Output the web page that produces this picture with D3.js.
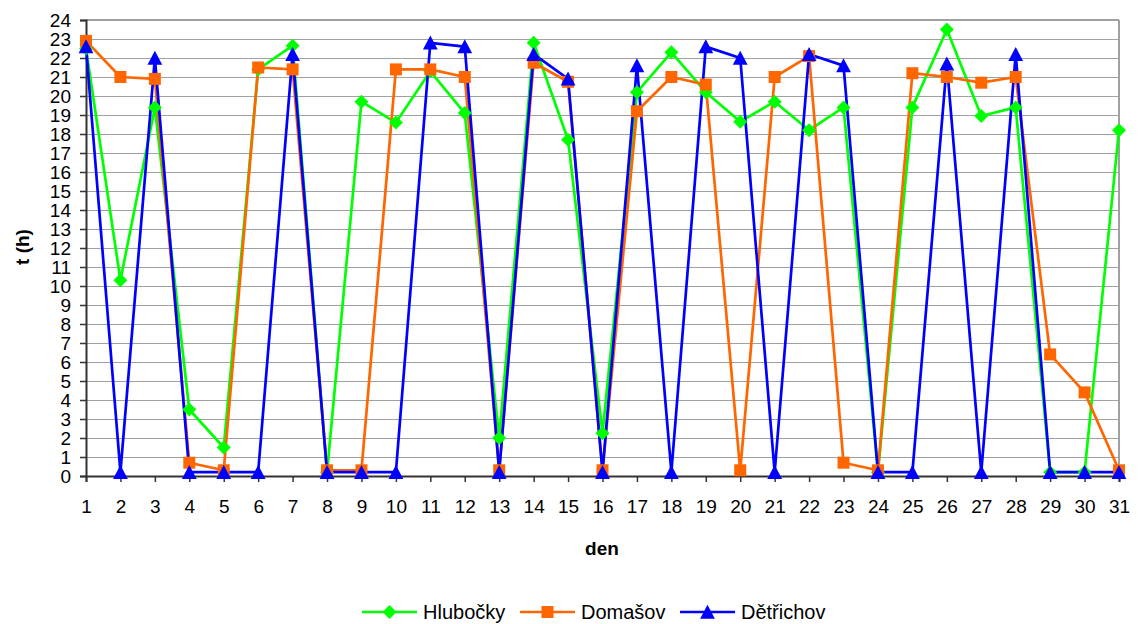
<!DOCTYPE html>
<html><head><meta charset="utf-8">
<script src="https://cdn.jsdelivr.net/npm/d3@7"></script>
<style>body{margin:0;background:#fff;font-family:"Liberation Sans",Arial,sans-serif;}</style>
</head><body><svg id="c" width="1138" height="624"></svg>
<script>
const days = d3.range(1, 32);
const hlubocky = [22.5,10.3,19.4,3.5,1.5,21.4,22.65,0.2,19.7,18.6,21.3,19.1,2.0,22.8,17.7,2.25,20.2,22.3,20.2,18.65,19.7,18.2,19.4,0.2,19.4,23.5,18.95,19.4,0.2,0.2,18.2];
const domasov = [22.9,21.0,20.9,0.7,0.3,21.5,21.4,0.3,0.3,21.4,21.4,21.0,0.3,21.75,20.75,0.3,19.2,21.0,20.6,0.3,21.0,22.1,0.7,0.3,21.2,21.0,20.7,21.0,6.4,4.4,0.3];
const detrichov = [22.6,0.2,22.0,0.2,0.2,0.2,22.2,0.2,0.2,0.2,22.8,22.6,0.2,22.2,20.9,0.2,21.6,0.2,22.6,22.0,0.2,22.2,21.6,0.2,0.2,21.7,0.2,22.2,0.2,0.2,0.2];
const seriesNames = ["Hlubočky","Domašov","Dětřichov"];
const yTicks = d3.range(0, 25);

const FONT = '"Liberation Sans",Arial,sans-serif';
const diamondPath = "M0,-7L7,0L0,7L-7,0Z";
const squarePath = "M-6,-6H6V6H-6Z";
const trianglePath = "M0,-7.3L7.4,6.7H-7.4Z";

const series = [
  {name: seriesNames[0], values: hlubocky, color: "#00FF00", marker: diamondPath},
  {name: seriesNames[1], values: domasov, color: "#FF6600", marker: squarePath},
  {name: seriesNames[2], values: detrichov, color: "#0000FF", marker: trianglePath}
];

const svg = d3.select("#c");
const L = 86, R = 1119, T = 20, B = 476;
const x = d3.scalePoint().domain(days).range([L, R]);
const y = d3.scaleLinear().domain([0, 24]).range([B, T]);

// gridlines
svg.append("g").selectAll("line").data(yTicks.filter(d => d > 0)).join("line")
  .attr("x1", L).attr("x2", R).attr("y1", d => y(d)).attr("y2", d => y(d))
  .attr("stroke", "#a0a0a0").attr("stroke-width", 1).attr("shape-rendering","crispEdges");
// top/right border
svg.append("line").attr("x1", L).attr("x2", R).attr("y1", T).attr("y2", T).attr("stroke", "#a0a0a0").attr("stroke-width", 2);
svg.append("line").attr("x1", R).attr("x2", R).attr("y1", T).attr("y2", B).attr("stroke", "#a0a0a0").attr("stroke-width", 2);

// axes
const yAxis = d3.axisLeft(y).tickValues(yTicks).tickSize(6).tickPadding(9);
const gy = svg.append("g").attr("transform", `translate(${L},0)`).call(yAxis);
const xAxis = d3.axisBottom(x).tickSize(6).tickPadding(18);
const gx = svg.append("g").attr("transform", `translate(0,${B})`).call(xAxis);
[gx, gy].forEach(g => {
  g.select(".domain").attr("stroke", "#333").attr("stroke-width", 2);
  g.selectAll(".tick line").attr("stroke", "#333").attr("stroke-width", 1.5);
  g.selectAll("text").attr("font-family", FONT).attr("font-size", 19).attr("fill", "#000");
});
gy.selectAll("text").attr("dy", "0.36em");

// axis titles
svg.append("text").attr("x", 602).attr("y", 555).attr("text-anchor", "middle")
  .attr("font-family", FONT).attr("font-size", 19).attr("font-weight", "bold").text("den");
svg.append("text").attr("transform", "translate(29,247) rotate(-90)").attr("text-anchor", "middle")
  .attr("font-family", FONT).attr("font-size", 19).attr("font-weight", "bold").text("t (h)");

// lines first, then markers
const line = d3.line().x((d, i) => x(days[i])).y(d => y(d));
const linesG = svg.append("g");
const markersG = svg.append("g");
series.forEach(s => {
  linesG.append("path").datum(s.values).attr("d", line).attr("fill", "none")
    .attr("stroke", s.color).attr("stroke-width", 2.7).attr("stroke-linejoin", "round");
});
series.forEach(s => {
  markersG.append("g").selectAll("path").data(s.values).join("path")
    .attr("d", s.marker)
    .attr("transform", (d, i) => `translate(${x(days[i])},${y(d)})`)
    .attr("fill", s.color);
});

// legend
const legX = [362, 520, 680];
const legY = 612;
series.forEach((s, i) => {
  const g = svg.append("g").attr("transform", `translate(${legX[i]},${legY})`);
  g.append("line").attr("x1", 0).attr("x2", 55).attr("stroke", s.color).attr("stroke-width", 2.7);
  g.append("path").attr("d", s.marker).attr("transform", "translate(27.5,0)").attr("fill", s.color);
  g.append("text").attr("x", 61).attr("y", 0).attr("dy", "0.36em")
    .attr("font-family", FONT).attr("font-size", 20).text(s.name);
});
</script></body></html>
